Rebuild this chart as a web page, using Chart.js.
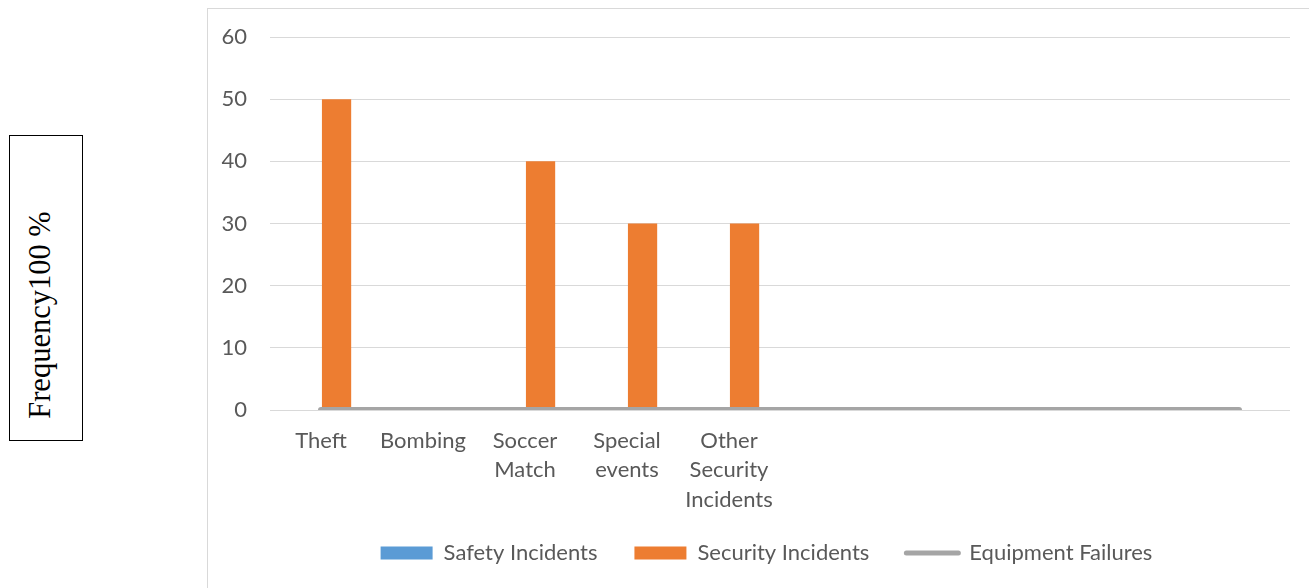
<!DOCTYPE html>
<html>
<head>
<meta charset="utf-8">
<script src="https://cdn.jsdelivr.net/npm/chart.js@4"></script>
<style>
  html, body { margin: 0; padding: 0; background: #fff; overflow: hidden; }
  #wrap { position: absolute; left: 0; top: 0; width: 1309px; height: 588px; overflow: hidden; }
  #frame { position: absolute; left: 207px; top: 8px; width: 1200px; height: 700px; border: 1px solid #d9d9d9; }
  #ybox { position: absolute; left: 9px; top: 135px; width: 72px; height: 304px; border: 1.5px solid #000; }
  #ytitle { position: absolute; left: -110px; top: 295px; width: 300px; height: 40px; line-height: 40px;
            text-align: center; font-family: "Liberation Serif", "Times New Roman", serif; font-size: 30.5px;
            color: #000; transform: rotate(-90deg); white-space: nowrap; }
  #c { position: absolute; left: 0; top: 0; }
</style>
</head>
<body>
<div id="wrap">
  <div id="frame"></div>
  <div id="ybox"></div>
  <div id="ytitle">Frequency100 %</div>
  <canvas id="c" width="1345" height="588"></canvas>
</div>
<script>
const categories = ["Theft", "Bombing", ["Soccer", "Match"], ["Special", "events"], ["Other", "Security", "Incidents"], "", "", "", "", ""];
const seriesNames = ["Safety Incidents", "Security Incidents", "Equipment Failures"];
const safetyIncidents = [0, 0, 0, 0, 0, null, null, null, null, null];
const securityIncidents = [50, 0, 40, 30, 30, null, null, null, null, null];
const equipmentFailures = [0, 0, 0, 0, 0, 0, 0, 0, 0, 0];
const yTicks = { min: 0, max: 60, step: 10 };

const FONT = "Lato, 'Open Sans', sans-serif";
const TXT = "#595959";

const legendShift = {
  id: 'legendShift',
  afterLayout(chart) {
    const l = chart.legend;
    if (l) { l.top -= 14; l.bottom -= 14; }
  }
};

new Chart(document.getElementById('c'), {
  data: {
    labels: categories,
    datasets: [
      { type: 'bar', label: seriesNames[0], data: safetyIncidents, backgroundColor: '#5B9BD5', order: 1,
        categoryPercentage: 0.61, barPercentage: 0.94 },
      { type: 'bar', label: seriesNames[1], data: securityIncidents, backgroundColor: '#ED7D31', order: 1,
        categoryPercentage: 0.61, barPercentage: 0.94 },
      { type: 'line', label: seriesNames[2], data: equipmentFailures, borderColor: '#A5A5A5', backgroundColor: '#A5A5A5',
        borderWidth: 6, borderCapStyle: 'round', pointRadius: 0, order: 0 }
    ]
  },
  plugins: [legendShift],
  options: {
    responsive: false,
    animation: false,
    layout: { padding: { left: 207, right: 19, top: 37, bottom: 0 } },
    plugins: {
      tooltip: { enabled: false },
      legend: {
        position: 'bottom',
        labels: {
          usePointStyle: true,
          pointStyleWidth: 52,
          boxHeight: 13,
          padding: 37,
          color: TXT,
          font: { family: FONT, size: 22 },
          generateLabels: (chart) => chart.data.datasets.map((ds, i) => ({
            text: ds.label,
            fillStyle: ds.type === 'line' ? ds.borderColor : ds.backgroundColor,
            strokeStyle: ds.type === 'line' ? ds.borderColor : ds.backgroundColor,
            lineWidth: ds.type === 'line' ? 5 : 0,
            lineCap: 'round',
            pointStyle: ds.type === 'line' ? 'line' : 'rect',
            fontColor: TXT,
            hidden: !chart.isDatasetVisible(i),
            datasetIndex: i
          }))
        }
      }
    },
    scales: {
      x: {
        grid: { display: false, drawTicks: false },
        border: { display: false },
        ticks: { color: TXT, font: { family: FONT, size: 22, lineHeight: 1.34 }, padding: 16, maxRotation: 0, autoSkip: false },
        afterFit: (s) => { s.height = 109; }
      },
      y: {
        min: yTicks.min, max: yTicks.max,
        grid: { color: '#d9d9d9', lineWidth: 1, drawTicks: false },
        border: { display: false },
        ticks: { stepSize: yTicks.step, color: TXT, font: { family: FONT, size: 22 }, padding: 23 },
        afterFit: (s) => { s.width = 63; }
      },
      yDummy: {
        type: 'linear', position: 'right', display: true,
        grid: { display: false, drawTicks: false },
        border: { display: false },
        ticks: { display: false },
        afterFit: (s) => { s.width = 36; }
      }
    }
  }
});
</script>
</body>
</html>
